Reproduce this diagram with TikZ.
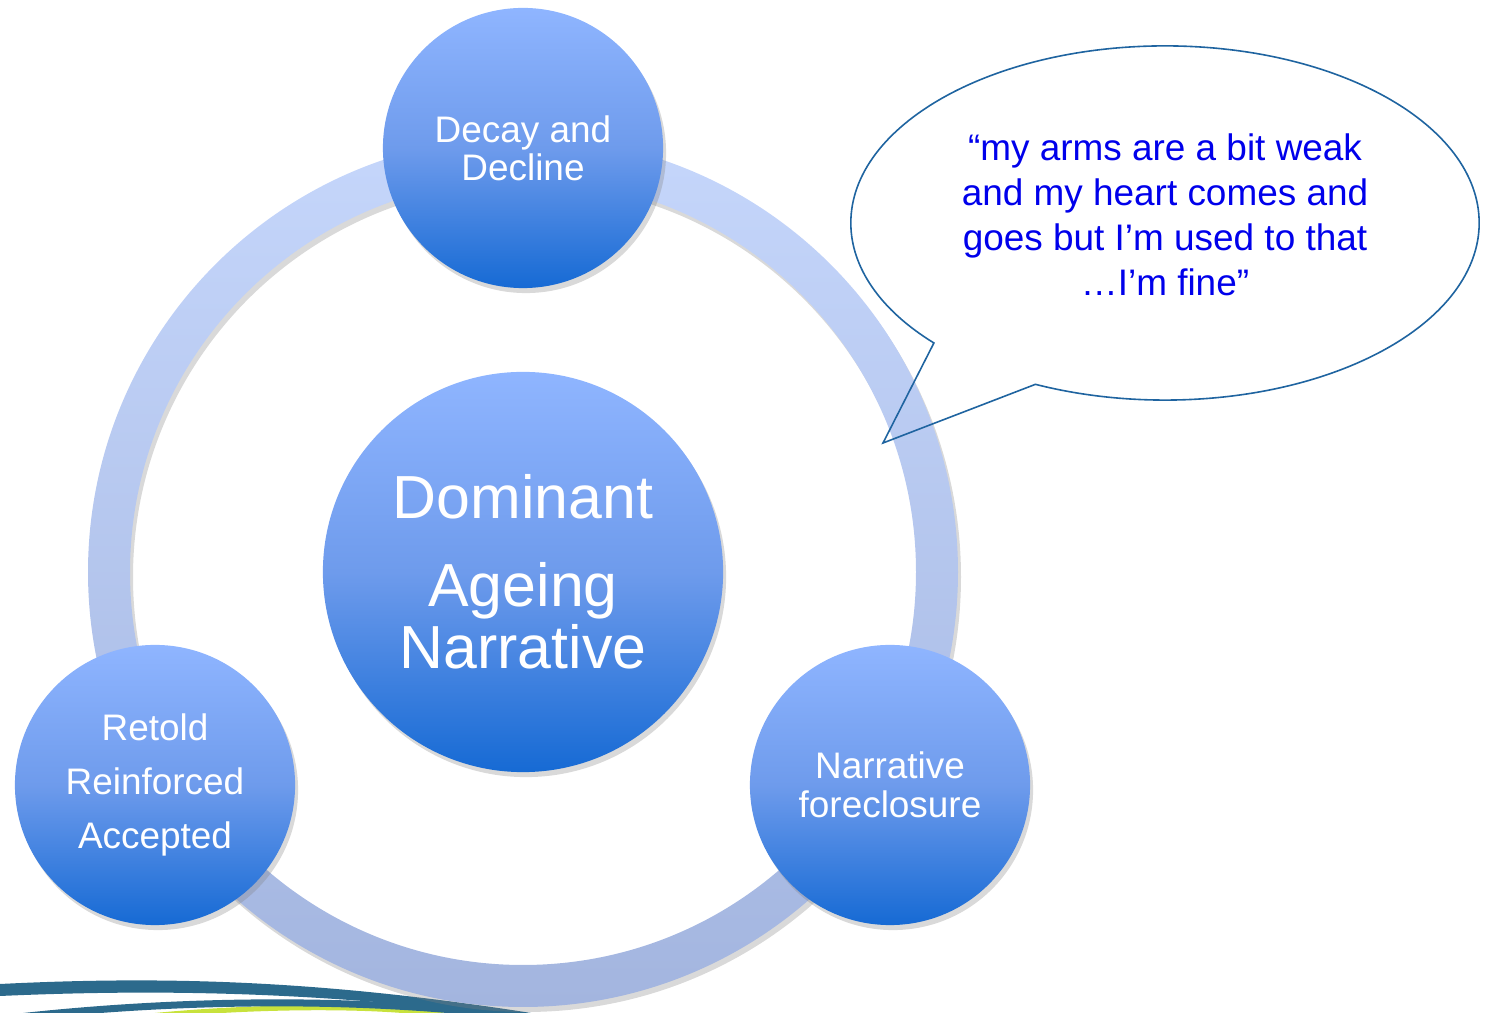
\documentclass[tikz,border=0pt]{standalone}
\usepackage{fontspec}
\setmainfont{Liberation Sans}
\usetikzlibrary{shapes.callouts}
\usetikzlibrary{shadows}
\definecolor{bubbletop}{RGB}{143,181,255}
\definecolor{bubblemid}{RGB}{110,155,236}
\definecolor{bubblebottom}{RGB}{22,106,212}
\definecolor{ringtop}{RGB}{197,214,251}
\definecolor{ringbottom}{RGB}{163,181,223}
\definecolor{quoteline}{RGB}{31,100,160}
\definecolor{quotetext}{RGB}{0,0,235}
\definecolor{swooshteal}{RGB}{44,106,140}
\definecolor{swooshlime}{RGB}{200,226,60}
\newcommand{\defaultbubblesize}{2.8cm}
\newcommand{\bubblesize}{\defaultbubblesize}
\newcommand{\bubblefont}[1]{\fontsize{10.5pt}{#1}\selectfont}
\tikzstyle{softshadow}=[drop shadow={shadow xshift=0.03cm, shadow yshift=-0.05cm, opacity=0.3}]
\tikzstyle{bubble}=[circle, inner sep=0, outer sep=0, minimum size=\bubblesize, text=white, align=center,
                    % shading runs from light at the top to deep blue at the bottom
                    top color=bubbletop, bottom color=bubblebottom, middle color=bubblemid,
                    softshadow, font=\bubblefont{10.8pt}]
\tikzstyle{hub}=[bubble, minimum size=4cm, font=\fontsize{17.3pt}{17.9pt}\selectfont]
\tikzstyle{quotebubble}=[ellipse callout, draw=quoteline, line width=0.016cm, inner sep=0,
                         minimum width=6.28cm, minimum height=3.54cm, callout pointer arc=23,
                         text=quotetext, align=center, font=\fontsize{10.5pt}{12.8pt}\selectfont]

\begin{document}
\begin{tikzpicture}[x=0.01cm, y=-0.01cm]
    \useasboundingbox (0, 0) rectangle (1487, 1013);
    \coordinate (hubc) at (523, 572);
    \coordinate (tip) at (883, 443);
    % swoosh along the bottom edge
    \begin{scope}
        \clip (0, 0) rectangle (1487, 1013);
        \fill[swooshteal] (0, 984) .. controls (180, 975) and (340, 982) .. (550, 1016) -- (515, 1016) .. controls (330, 994) and (180, 988) .. (0, 996) -- cycle;
        \draw[swooshlime, line width=0.05cm] (150, 1016) .. controls (250, 1006) and (380, 1004) .. (450, 1016);
        \draw[swooshteal, line width=0.07cm] (10, 1018) .. controls (150, 1002) and (340, 994) .. (530, 1018);
    \end{scope}
    \shade[top color=ringtop, bottom color=ringbottom, even odd rule,
           drop shadow={shadow xshift=0.03cm, shadow yshift=-0.05cm, opacity=0.3, even odd rule}]
        (hubc) circle[radius=435] (hubc) circle[radius=393];
    \node[bubble] (decay) at (523, 148) {Decay and\\Decline};
    \node[hub] (dominant) at (hubc) {Dominant\\[7pt]Ageing\\Narrative};
    \node[bubble, font=\bubblefont{15.4pt}] (retold) at (155, 785) {Retold\\Reinforced\\Accepted};
    \node[bubble, font=\bubblefont{11.1pt}] (foreclosure) at (890, 785) {Narrative\\foreclosure};
    \node[quotebubble, callout absolute pointer={(tip)}, text depth=4.5pt] (quote) at (1165, 223) {“my arms are a bit weak\\and my heart comes and\\goes but I’m used to that\\…I’m fine”};
\end{tikzpicture}
\end{document}
